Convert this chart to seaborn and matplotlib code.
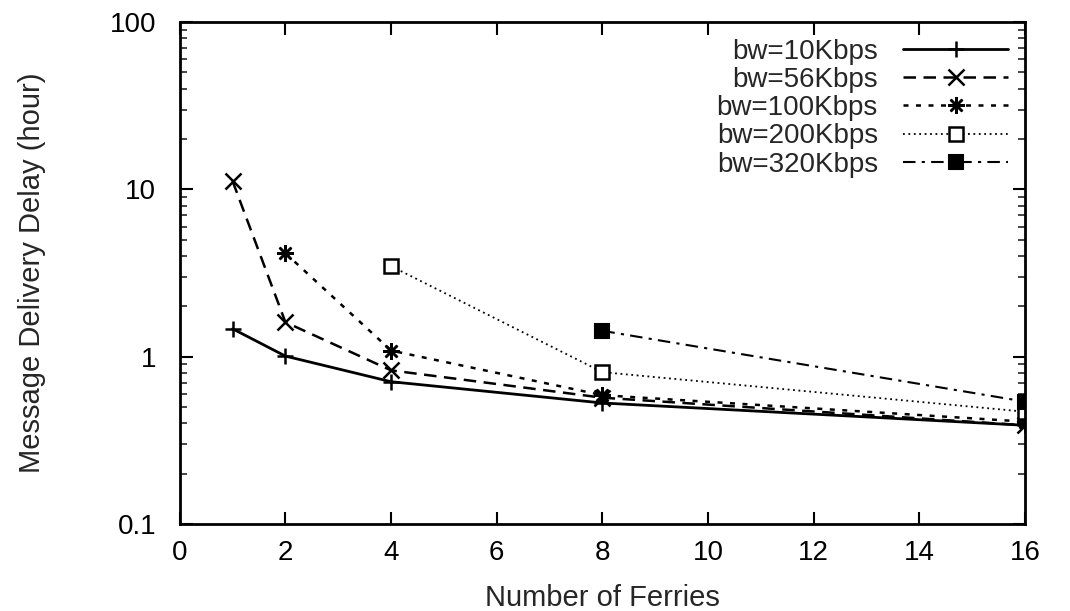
import matplotlib
matplotlib.use("Agg")
import matplotlib.pyplot as plt
import seaborn as sns
import numpy as np
from matplotlib.ticker import LogLocator, NullFormatter, FixedLocator

# Data
labels = ["bw=10Kbps", "bw=56Kbps", "bw=100Kbps", "bw=200Kbps", "bw=320Kbps"]
x_10 = [1, 2, 4, 8, 16]
y_10 = [1.47, 1.01, 0.71, 0.53, 0.39]
x_56 = [1, 2, 4, 8, 16]
y_56 = [11.2, 1.61, 0.83, 0.57, 0.39]
x_100 = [2, 4, 8, 16]
y_100 = [4.16, 1.09, 0.59, 0.41]
x_200 = [4, 8, 16]
y_200 = [3.48, 0.81, 0.47]
x_320 = [8, 16]
y_320 = [1.43, 0.54]
xticks = [0, 2, 4, 6, 8, 10, 12, 14, 16]
yticks = [0.1, 1, 10, 100]
ytick_labels = ["0.1", "1", "10", "100"]

sns.set_theme(style="ticks")
plt.rcParams['font.family'] = ['Liberation Sans', 'DejaVu Sans']

fig = plt.figure(figsize=(10.70, 6.11), dpi=100)
ax = fig.add_axes([0.168, 0.142, 0.790, 0.822])

series = [
    (x_10, y_10, dict(linestyle='-', marker='+', markersize=12, mew=1.8, mfc='black')),
    (x_56, y_56, dict(linestyle=(0, (5, 3)), marker='x', markersize=11, mew=1.8)),
    (x_100, y_100, dict(linestyle=(0, (2, 3)), marker=(8, 2, 0), markersize=12, mew=1.8)),
    (x_200, y_200, dict(linestyle=(0, (1, 2)), marker='s', markersize=10, mew=1.8, mfc='white')),
    (x_320, y_320, dict(linestyle=(0, (6, 3, 1.5, 3)), marker='s', markersize=10, mew=1.5, mfc='black')),
]
lws = [2.0, 1.8, 1.8, 1.3, 1.5]
for (xs, ys, kw), lab, lw in zip(series, labels, lws):
    sns.lineplot(x=xs, y=ys, ax=ax, color='black', label=lab, linewidth=lw,
                 mec='black', **kw)

ax.set_yscale('log')
ax.set_xlim(0, 16)
ax.set_ylim(0.1, 100)
ax.xaxis.set_major_locator(FixedLocator(xticks))
ax.set_xticklabels([str(t) for t in xticks])
ax.yaxis.set_major_locator(FixedLocator(yticks))
ax.set_yticklabels(ytick_labels)
ax.yaxis.set_minor_locator(LogLocator(base=10, subs=np.arange(2, 10)))
ax.yaxis.set_minor_formatter(NullFormatter())

ax.tick_params(axis='both', which='major', direction='in', length=9, width=1.5,
               labelsize=20, top=True, right=True, colors='black')
ax.tick_params(axis='x', which='major', pad=11)
ax.tick_params(axis='y', which='major', pad=17)
ax.tick_params(axis='y', which='minor', direction='in', length=5, width=1.2,
               left=True, right=True)
for s in ax.spines.values():
    s.set_linewidth(2.0)
    s.set_color('black')

ax.set_xlabel("Number of Ferries", fontsize=21)
ax.set_ylabel("Message Delivery Delay (hour)", fontsize=21)
ax.xaxis.set_label_coords(0.5, -0.118)
ax.yaxis.set_label_coords(-0.175, 0.5)
ax.xaxis.label.set_va('top')
ax.yaxis.label.set_va('center')

leg = ax.legend(loc='upper right', frameon=False, markerfirst=False, fontsize=20,
                handlelength=3.8, handletextpad=0.9, labelspacing=0.08,
                borderaxespad=0.4, borderpad=0.2)
for t in leg.get_texts():
    t.set_ha('right')
leg._legend_box.align = "right"

fig.savefig("out.png", dpi=100)
